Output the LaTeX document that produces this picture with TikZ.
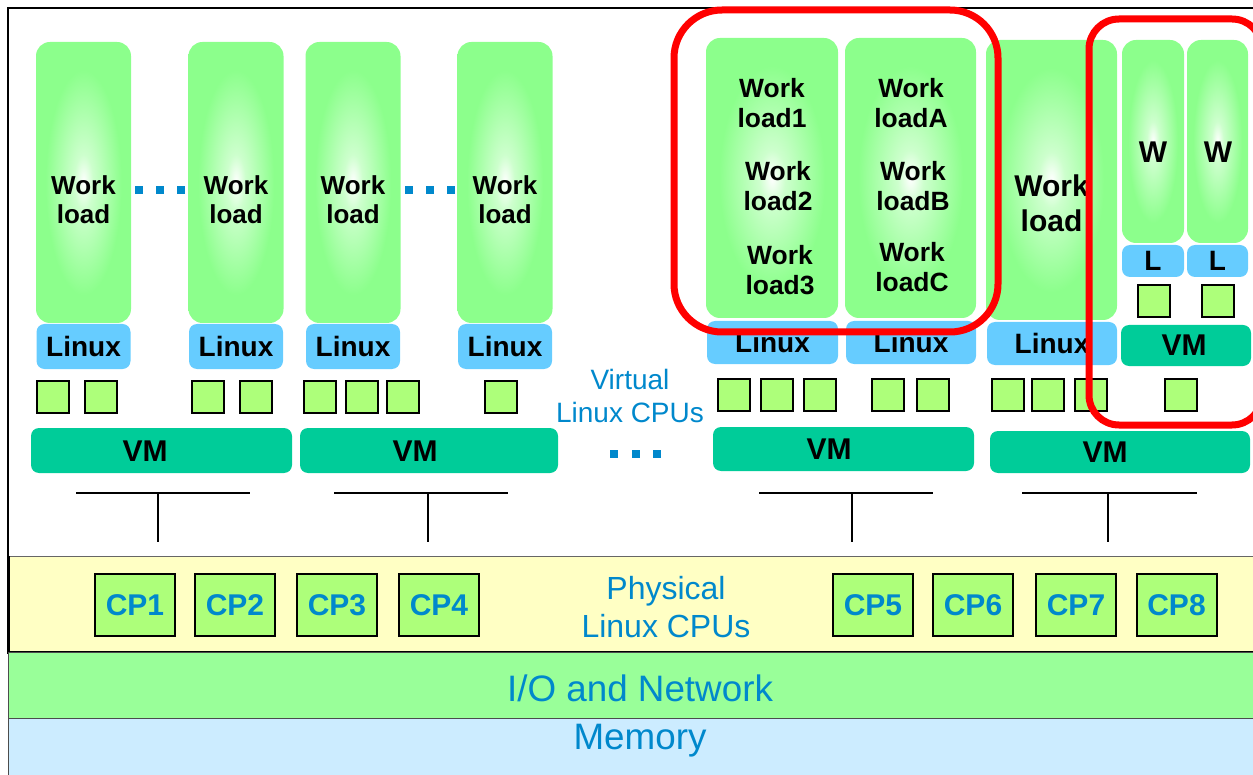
\documentclass[tikz,border=0pt]{standalone}
\usepackage{fontspec}
\setmainfont{Liberation Sans}
\usetikzlibrary{positioning}
\definecolor{wlgreen}{RGB}{140,255,140}
\definecolor{wlpale}{RGB}{205,255,205}
\definecolor{lxblue}{RGB}{102,204,255}
\definecolor{vmgreen}{RGB}{0,204,153}
\definecolor{cpugreen}{RGB}{173,255,122}
\definecolor{cpband}{RGB}{255,255,196}
\definecolor{ioband}{RGB}{153,255,153}
\definecolor{memband}{RGB}{204,236,255}
\definecolor{txtblue}{RGB}{0,136,204}
\pgfdeclareradialshading{wlglow}{\pgfpointorigin}{color(0bp)=(white); color(5bp)=(wlpale); color(20bp)=(wlgreen); color(50bp)=(wlgreen)}

\begin{document}
\begin{tikzpicture}[x=0.5pt,y=-0.5pt,
  wlcol/.style={shading=wlglow,rounded corners=7pt,inner sep=0pt},
  wltxt/.style={align=center,inner sep=0pt,font=\bfseries\fontsize{13}{14.5}\selectfont},
  grtxt/.style={align=center,inner sep=0pt,font=\bfseries\fontsize{13.2}{15}\selectfont},
  lxbox/.style={fill=lxblue,rounded corners=4pt,inner sep=0pt,font=\bfseries\fontsize{14}{16}\selectfont},
  vcpu/.style={draw,line width=1pt,fill=cpugreen,minimum width=16pt,minimum height=16pt,inner sep=0pt},
  vmbar/.style={fill=vmgreen,rounded corners=4pt,inner sep=0pt},
  vmtxt/.style={inner sep=0pt,font=\bfseries\fontsize{15}{17}\selectfont},
  cpbox/.style={draw,line width=1pt,fill=cpugreen,minimum width=40pt,minimum height=31pt,inner sep=0pt,text=txtblue,font=\bfseries\fontsize{15}{17}\selectfont},
  note/.style={align=center,inner sep=0pt,text=txtblue},
  band/.style={draw=black!70,line width=0.5pt},
  tline/.style={line width=1pt},
  ring/.style={draw=red,line width=3.5pt}]
\useasboundingbox (0,0) rectangle (1253,775);
\clip (0,0) rectangle (1253,775);

\draw[line width=1pt] (8,560) -- (8,8) -- (1270,8);
\fill[cpband] (8,556) rectangle (1270,652);
\draw[black!60,line width=0.5pt] (8,556) -- (1270,556);
\draw[line width=1.5pt] (8,556) -- (8,652) -- (1270,652);
\draw[band,fill=ioband] (8,652) rectangle (1270,718);
\draw[band,fill=memband] (8,718) rectangle (1270,780);

\foreach \n/\cx in {1/83.5,2/236,3/353,4/505}{
  \node[wlcol,minimum width=47.5pt,minimum height=140.5pt] (wl\n) at (\cx,182.5) {};
  \node[wltxt] (wt\n) at (\cx,199.5) {Work\\load};
  \node[lxbox,minimum width=47pt,minimum height=22.5pt] (lx\n) at (\cx,346.5) {Linux};
}
\foreach \x [count=\i] in {53,101,208,256,320,361.5,403,501}
  \node[vcpu] (vl\i) at (\x,396.5) {};
\foreach \x in {139,160,181,409,430,451}
  \fill[txtblue] (\x-4,186.5) rectangle (\x+4,194.5);
\foreach \x in {614,636,657}
  \fill[txtblue] (\x-4,450) rectangle (\x+4,458);

\node[vmbar,minimum width=130.5pt,minimum height=22.5pt] (vm1) at (161.5,450.5) {};
\node[vmtxt] (vmt1) at (145,451) {VM};
\node[vmbar,minimum width=129pt,minimum height=22.5pt] (vm2) at (429,450.5) {};
\node[vmtxt] (vmt2) at (415,451) {VM};

\node[note,font=\fontsize{14}{16.5}\selectfont] (vnote) at (630,395.5) {Virtual\\Linux CPUs};

\node[wlcol,minimum width=66pt,minimum height=140pt] (wla) at (772,178) {};
\node[wlcol,minimum width=65.5pt,minimum height=140pt] (wlb) at (910.5,178) {};
\node[wlcol,minimum width=65.5pt,minimum height=140pt] (wlc) at (1051.5,180) {};
\node[wlcol,minimum width=31pt,minimum height=101.5pt] (wlw1) at (1153,141.5) {};
\node[wlcol,minimum width=30.5pt,minimum height=101.5pt] (wlw2) at (1217.5,141.5) {};
\foreach \n/\x/\y/\t in {a1/772/103/1,a2/778/186.5/2,a3/780/270/3,b1/911/103/A,b2/913/186/B,b3/912/267.5/C}
  \node[grtxt] (g\n) at (\x,\y) {Work\\load\t};
\node[wltxt,font=\bfseries\fontsize{15}{17.5}\selectfont] (wtc) at (1051.5,203.5) {Work\\load};
\node[vmtxt] (wtw1) at (1153,152) {W};
\node[vmtxt] (wtw2) at (1218,152) {W};

\node[lxbox,minimum width=65.5pt,minimum height=21.5pt] (lxa) at (772.5,342.5) {Linux};
\node[lxbox,minimum width=65pt,minimum height=21.5pt] (lxb) at (911,342.5) {Linux};
\node[lxbox,minimum width=65pt,minimum height=21.5pt] (lxc) at (1052,343.5) {Linux};
\node[lxbox,minimum width=31pt,minimum height=16pt] (lxw1) at (1153,261) {L};
\node[lxbox,minimum width=30.5pt,minimum height=16pt] (lxw2) at (1217.5,261) {L};

\foreach \x [count=\i] in {733.5,776.5,819.5,887.5,932.5,1007.5,1047.5,1090.5}
  \node[vcpu] (vr\i) at (\x,395) {};
\node[vcpu] (vw1) at (1153.5,301.5) {};
\node[vcpu] (vw2) at (1217.5,301.5) {};
\node[vcpu] (vw3) at (1180.5,394.5) {};

\node[vmbar,minimum width=65pt,minimum height=20.5pt] (vmw) at (1186,345.5) {};
\node[vmtxt] (vmtw) at (1184,345.5) {VM};
\node[vmbar,minimum width=130.5pt,minimum height=22pt] (vma) at (843.5,449) {};
\node[vmtxt] (vmta) at (829,449) {VM};
\node[vmbar,minimum width=130pt,minimum height=21pt] (vmb) at (1120,452) {};
\node[vmtxt] (vmtb) at (1105,452) {VM};

\foreach \l/\r/\s [count=\i] in {76/250/158,334/508/428,759/933/852,1022/1197/1108}{
  \coordinate (tt\i) at (\s,493);
  \coordinate (tb\i) at (\s,542);
  \draw[tline] (\l,493) -- (\r,493);
  \draw[tline] (tt\i) -- (tb\i);
}

\foreach \x/\t in {135/1,235/2,337/3,439/4,873/5,973/6,1076/7,1176.5/8}
  \node[cpbox] (cp\t) at (\x,605) {CP\t};
\node[note,font=\fontsize{16}{19}\selectfont] (pnote) at (666,607.5) {Physical\\Linux CPUs};
\node[note,font=\fontsize{18.4}{22}\selectfont] (io) at (640,688) {I/O and Network};
\node[note,font=\fontsize{18.4}{22}\selectfont] (mem) at (640,741) {Memory};

\draw[ring,rounded corners=24pt] (674,10) rectangle (998,332);
\draw[ring,rounded corners=15pt] (1089,19) rectangle (1262,425);
\end{tikzpicture}
\end{document}
